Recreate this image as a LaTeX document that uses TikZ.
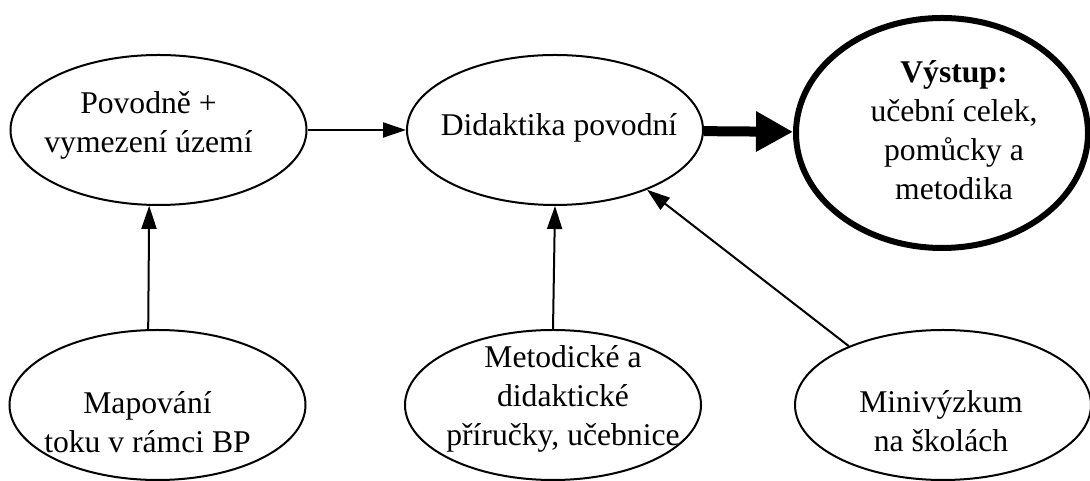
\documentclass[tikz,border=0pt]{standalone}
\usepackage{fontspec}
\setmainfont{Liberation Serif}
\usetikzlibrary{shapes.geometric,arrows.meta}

\begin{document}
\begin{tikzpicture}
	\tikzstyle{oval} = [ellipse, draw, line width=0.04cm, minimum width=5.92cm, minimum height=3cm, inner sep=0pt]
	\tikzstyle{goal} = [ellipse, draw, line width=0.12cm, minimum width=5.84cm, minimum height=4.6cm, inner sep=0pt]
	\tikzstyle{txt} = [align=center, inner sep=0pt, font=\fontsize{18}{22.2}\selectfont]
\tikzstyle{edge} = [line width=0.04cm, -{Triangle[length=0.46cm,width=0.3cm]}]
\tikzstyle{bigedge} = [line width=0.2cm, -{Triangle[length=0.74cm,width=0.76cm]}]
\def\toprow{7.02}
\def\botrow{1.52}

\useasboundingbox (0,0) rectangle (21.8,9.62);

%topics
\foreach \name/\x/\dx/\dy/\text in {povodne/3.17/-0.2/0.1/{Povodně +\\vymezení území}, didaktika/11.1/0.08/0.04/{Didaktika povodní}} {
  	\node[oval] (\name) at (\x, \toprow) {};
  	\node[txt] (\name-txt) at ([xshift=\dx cm, yshift=\dy cm]\name.center) {\text};
}

%sources
\foreach \name/\x/\dx/\dy/\text in {mapovani/3.15/-0.2/-0.34/{Mapování\\toku v rámci BP}, prirucky/11.06/0.2/0.12/{Metodické a\\didaktické\\příručky, učebnice}, vyzkum/18.86/-0.04/-0.32/{Minivýzkum\\na školách}} {
  	\node[oval] (\name) at (\x, \botrow) {};
  	\node[txt] (\name-txt) at ([xshift=\dx cm, yshift=\dy cm]\name.center) {\text};
}

%output
\node[goal] (vystup) at (18.84, 6.96) {};
\node[txt] (vystup-txt) at ([xshift=0.24cm, yshift=0.06cm]vystup.center) {\textbf{Výstup:}\\učební celek,\\pomůcky a\\metodika};

\draw[edge] (povodne) -- (didaktika);
\draw[edge] (mapovani.97) -- (povodne.-97);
\draw[edge] (prirucky.north) -- (didaktika.south);
\draw[edge] (vyzkum.148) -- (didaktika.-33);
\draw[bigedge] (didaktika) -- (vystup);
\end{tikzpicture}
\end{document}
